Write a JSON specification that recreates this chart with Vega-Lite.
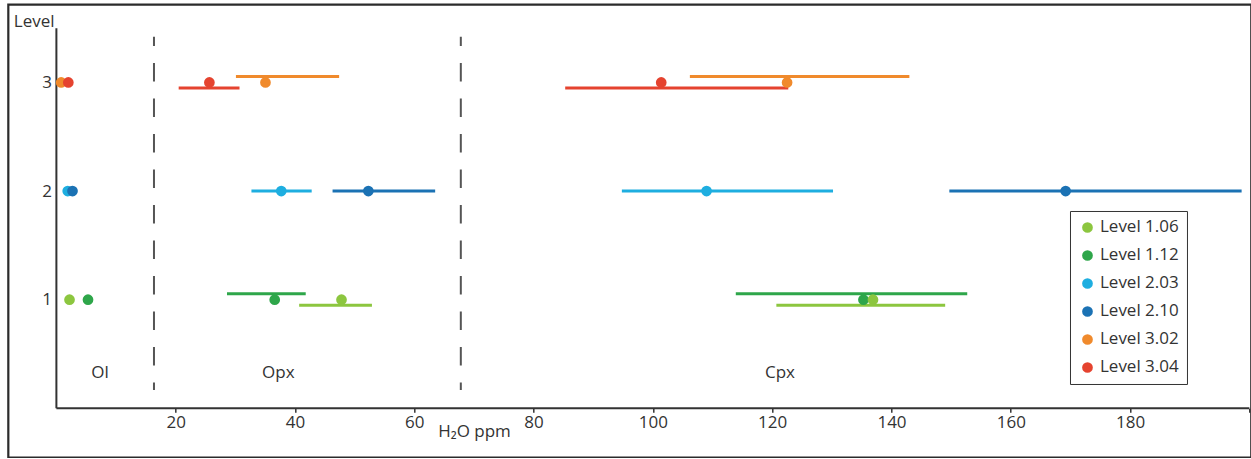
{
  "$schema": "https://vega.github.io/schema/vega-lite/v6.json",
  "width": 1243,
  "height": 453,
  "autosize": {"type": "none"},
  "padding": {"left": 8.3, "top": 4.7, "right": 0, "bottom": 0},
  "background": "white",
  "config": {
    "font": "Open Sans",
    "view": {"stroke": "#2b2b2b", "strokeWidth": 2.2},
    "axis": {
      "grid": false,
      "domain": false,
      "labelFont": "Open Sans",
      "labelFontSize": 17,
      "labelColor": "#333333",
      "titleFont": "Open Sans",
      "titleFontSize": 17,
      "titleFontWeight": "normal",
      "titleColor": "#333333"
    }
  },
  "datasets": {
    "obs": [
      {"series": "Level 1.12", "level": 1, "mineral": "Ol", "value": 5.3, "lo": null, "hi": null},
      {"series": "Level 1.06", "level": 1, "mineral": "Ol", "value": 2.2, "lo": null, "hi": null},
      {"series": "Level 1.12", "level": 1, "mineral": "Opx", "value": 36.6, "lo": 28.6, "hi": 41.8},
      {"series": "Level 1.06", "level": 1, "mineral": "Opx", "value": 47.8, "lo": 40.7, "hi": 52.9},
      {"series": "Level 1.12", "level": 1, "mineral": "Cpx", "value": 135.3, "lo": 113.9, "hi": 152.7},
      {"series": "Level 1.06", "level": 1, "mineral": "Cpx", "value": 136.9, "lo": 120.7, "hi": 149.0},
      {"series": "Level 2.03", "level": 2, "mineral": "Ol", "value": 1.9, "lo": null, "hi": null},
      {"series": "Level 2.10", "level": 2, "mineral": "Ol", "value": 2.7, "lo": null, "hi": null},
      {"series": "Level 2.03", "level": 2, "mineral": "Opx", "value": 37.7, "lo": 32.7, "hi": 42.8},
      {"series": "Level 2.10", "level": 2, "mineral": "Opx", "value": 52.3, "lo": 46.3, "hi": 63.5},
      {"series": "Level 2.03", "level": 2, "mineral": "Cpx", "value": 109.0, "lo": 94.8, "hi": 130.2},
      {"series": "Level 2.10", "level": 2, "mineral": "Cpx", "value": 169.2, "lo": 149.7, "hi": 198.7},
      {"series": "Level 3.02", "level": 3, "mineral": "Ol", "value": 0.8, "lo": null, "hi": null},
      {"series": "Level 3.04", "level": 3, "mineral": "Ol", "value": 2.0, "lo": null, "hi": null},
      {"series": "Level 3.02", "level": 3, "mineral": "Opx", "value": 35.05, "lo": 30.1, "hi": 47.4},
      {"series": "Level 3.04", "level": 3, "mineral": "Opx", "value": 25.65, "lo": 20.5, "hi": 30.7},
      {"series": "Level 3.02", "level": 3, "mineral": "Cpx", "value": 122.5, "lo": 106.2, "hi": 143.0},
      {"series": "Level 3.04", "level": 3, "mineral": "Cpx", "value": 101.4, "lo": 85.3, "hi": 122.7}
    ],
    "regions": [
      {"label": "Ol", "xpos": 7.31, "ypos": 0.276},
      {"label": "Opx", "xpos": 37.2, "ypos": 0.276},
      {"label": "Cpx", "xpos": 121.3, "ypos": 0.276}
    ],
    "dividers": [
      {"xpos": 16.36},
      {"xpos": 67.8}
    ]
  },
  "layer": [
    {
      "data": {"values": [{}]},
      "mark": {"type": "rule", "color": "#333333", "strokeWidth": 2},
      "encoding": {
        "x": {
          "datum": 0, "type": "quantitative",
          "scale": {"domain": [-8.06, 200.32], "nice": false, "zero": false},
          "axis": {
            "values": [20, 40, 60, 80, 100, 120, 140, 160, 180, 200],
            "labelExpr": "datum.value == 200 ? '' : datum.label",
            "ticks": true,
            "tickSize": 4,
            "tickWidth": 1.5,
            "tickColor": "#333333",
            "labelPadding": 2,
            "offset": -49.4,
            "title": "H₂O ppm",
            "titleX": 465.7,
            "titleY": 28.2,
            "titleBaseline": "alphabetic",
            "titleAlign": "center",
            "titleAnchor": null
          }
        },
        "x2": {"datum": 200},
        "y": {
          "datum": 0, "type": "quantitative",
          "scale": {"domain": [-0.455, 3.716], "nice": false, "zero": false},
          "axis": {
            "values": [1, 2, 3],
            "format": "d",
            "ticks": false,
            "labelPadding": 5,
            "offset": -48.1,
            "title": "Level",
            "titleAngle": 0,
            "titleX": -43.1,
            "titleY": 22,
            "titleBaseline": "alphabetic",
            "titleAlign": "left",
            "titleAnchor": null
          }
        }
      }
    },
    {
      "data": {"values": [{}]},
      "mark": {"type": "rule", "color": "#333333", "strokeWidth": 2},
      "encoding": {
        "x": {"datum": 0, "type": "quantitative", "scale": {"domain": [-8.06, 200.32], "nice": false, "zero": false}},
        "y": {"datum": 0, "type": "quantitative", "scale": {"domain": [-0.455, 3.716], "nice": false, "zero": false}},
        "y2": {"datum": 3.5}
      }
    },
    {
      "data": {"name": "dividers"},
      "mark": {"type": "rule", "color": "#555555", "strokeWidth": 2, "strokeDash": [18.5, 17], "strokeDashOffset": 9.2},
      "encoding": {
        "x": {"field": "xpos", "type": "quantitative", "scale": {"domain": [-8.06, 200.32], "nice": false, "zero": false}},
        "y": {"datum": 3.422, "type": "quantitative", "scale": {"domain": [-0.455, 3.716], "nice": false, "zero": false}},
        "y2": {"datum": 0.169}
      }
    },
    {
      "data": {"name": "regions"},
      "mark": {"type": "text", "font": "Open Sans", "fontSize": 17, "color": "#333333", "align": "center", "baseline": "alphabetic"},
      "encoding": {
        "x": {"field": "xpos", "type": "quantitative", "scale": {"domain": [-8.06, 200.32], "nice": false, "zero": false}},
        "y": {"field": "ypos", "type": "quantitative", "scale": {"domain": [-0.455, 3.716], "nice": false, "zero": false}},
        "text": {"field": "label"}
      }
    },
    {
      "data": {"name": "obs"},
      "transform": [
        {"filter": "isValid(datum.lo)"},
        {"filter": "datum.series == 'Level 3.02' || datum.series == 'Level 1.12'"}
      ],
      "mark": {"type": "rule", "strokeWidth": 3, "yOffset": -6},
      "encoding": {
        "x": {"field": "lo", "type": "quantitative", "scale": {"domain": [-8.06, 200.32], "nice": false, "zero": false}},
        "x2": {"field": "hi"},
        "y": {"field": "level", "type": "quantitative", "scale": {"domain": [-0.455, 3.716], "nice": false, "zero": false}},
        "color": {"field": "series", "type": "nominal"}
      }
    },
    {
      "data": {"name": "obs"},
      "transform": [
        {"filter": "isValid(datum.lo)"},
        {"filter": "datum.series == 'Level 3.04' || datum.series == 'Level 1.06'"}
      ],
      "mark": {"type": "rule", "strokeWidth": 3, "yOffset": 5.5},
      "encoding": {
        "x": {"field": "lo", "type": "quantitative", "scale": {"domain": [-8.06, 200.32], "nice": false, "zero": false}},
        "x2": {"field": "hi"},
        "y": {"field": "level", "type": "quantitative", "scale": {"domain": [-0.455, 3.716], "nice": false, "zero": false}},
        "color": {"field": "series", "type": "nominal"}
      }
    },
    {
      "data": {"name": "obs"},
      "transform": [
        {"filter": "isValid(datum.lo)"},
        {"filter": "datum.series == 'Level 2.03' || datum.series == 'Level 2.10'"}
      ],
      "mark": {"type": "rule", "strokeWidth": 3},
      "encoding": {
        "x": {"field": "lo", "type": "quantitative", "scale": {"domain": [-8.06, 200.32], "nice": false, "zero": false}},
        "x2": {"field": "hi"},
        "y": {"field": "level", "type": "quantitative", "scale": {"domain": [-0.455, 3.716], "nice": false, "zero": false}},
        "color": {"field": "series", "type": "nominal"}
      }
    },
    {
      "data": {"name": "obs"},
      "mark": {"type": "point", "filled": true, "opacity": 1, "size": 115, "strokeWidth": 0},
      "encoding": {
        "x": {"field": "value", "type": "quantitative", "scale": {"domain": [-8.06, 200.32], "nice": false, "zero": false}},
        "y": {"field": "level", "type": "quantitative", "scale": {"domain": [-0.455, 3.716], "nice": false, "zero": false}},
        "color": {
          "field": "series", "type": "nominal",
          "scale": {"domain": ["Level 1.06", "Level 1.12", "Level 2.03", "Level 2.10", "Level 3.02", "Level 3.04"],
                    "range": ["#8cc63f", "#2ea64a", "#1eaee0", "#1b72b4", "#f08a2c", "#e5432f"]},
          "legend": {
            "title": null,
            "orient": "none",
            "legendX": 1061.7,
            "legendY": 206.3,
            "strokeColor": "#333333",
            "fillColor": "white",
            "padding": 8,
            "rowPadding": 10,
            "symbolType": "circle",
            "symbolSize": 115,
            "symbolStrokeWidth": 0,
            "symbolOpacity": 1,
            "symbolOffset": 1,
            "labelFont": "Open Sans",
            "labelFontSize": 17,
            "labelColor": "#333333",
            "labelOffset": 4
          }
        }
      }
    }
  ]
}
